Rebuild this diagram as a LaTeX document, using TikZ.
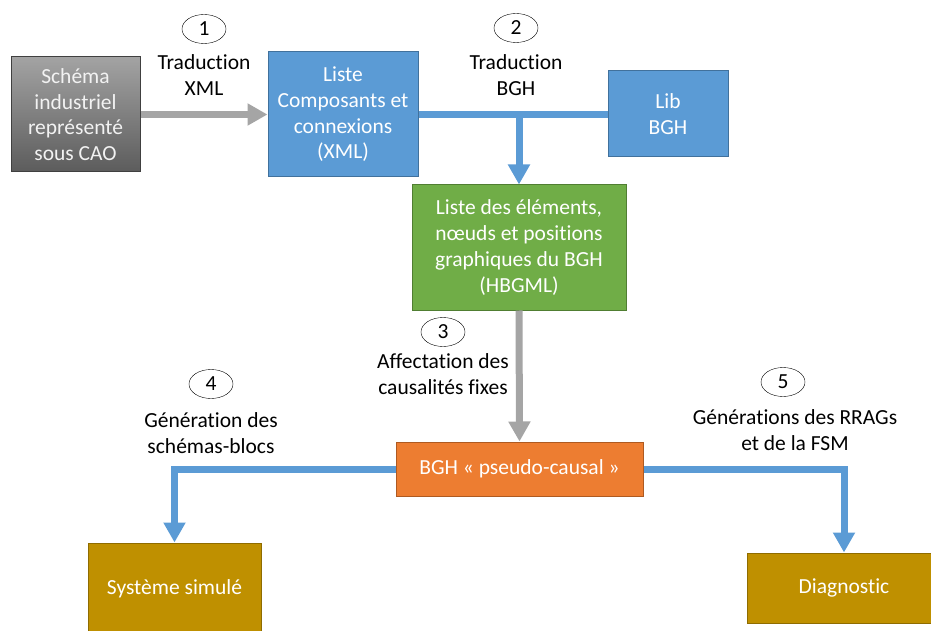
\documentclass[tikz,border=0pt]{standalone}
\usepackage{fontspec}
\setmainfont{Carlito}[Ligatures=NoCommon]
\usepackage{tikz}
\usetikzlibrary{arrows.meta, shapes.geometric, positioning}
\definecolor{C_BLUE}  {HTML}{5B9BD5}
\definecolor{C_BLUED} {HTML}{41719C}
\definecolor{C_GREEN} {HTML}{70AD47}
\definecolor{C_GREEND}{HTML}{507E32}
\definecolor{C_ORNG}  {HTML}{ED7D31}
\definecolor{C_ORNGD} {HTML}{AE5A21}
\definecolor{C_GOLD}  {HTML}{BF9000}
\definecolor{C_GOLDD} {HTML}{8F6C00}
\definecolor{C_ARR}   {HTML}{A5A5A5}
\definecolor{C_GTOP}  {HTML}{A3A3A3}
\definecolor{C_GBOT}  {HTML}{5C5C5C}
\tikzset{
  %% -- generic process box --
  flow/box/.style={
    draw, line width=1pt, align=center, inner sep=0pt,
    font=\fontsize{21.5}{25.7}\selectfont, text=white
  },
  flow/cao/.style={flow/box, draw=black!75, top color=C_GTOP, bottom color=C_GBOT,
    text=white!95!black},
  flow/blue/.style={flow/box, draw=C_BLUED, fill=C_BLUE},
  flow/green/.style={flow/box, draw=C_GREEND, fill=C_GREEN},
  flow/orange/.style={flow/box, draw=C_ORNGD, fill=C_ORNG},
  flow/gold/.style={flow/box, draw=C_GOLDD, fill=C_GOLD},
  %% -- step number and step label --
  flow/num/.style={
    ellipse, draw, thin, minimum width=44pt, minimum height=29pt,
    inner sep=0pt, font=\fontsize{21.5}{24}\selectfont
  },
  flow/lbl/.style={align=center, font=\fontsize{21.5}{25.7}\selectfont},
  %% -- connectors --
  flow/garr/.style={draw=C_ARR, line width=7pt, -{Triangle[width=21pt,length=20pt]}},
  flow/barr/.style={draw=C_BLUE, line width=7pt, -{Triangle[width=21pt,length=20pt]}},
  flow/bline/.style={draw=C_BLUE, line width=7pt},
}

\begin{document}
\begin{tikzpicture}[x=1pt, y=-1pt]
\clip (0,0) rectangle (931,631);

%% Nodes
\node[flow/cao, minimum width=129pt, minimum height=115pt] (cao) at (75.5, 114.5)
  {Schéma\\industriel\\représenté\\sous CAO};
\node[flow/blue, minimum width=150pt, minimum height=125pt] (xml) at (343, 114.5)
  {Liste\\Composants et\\connexions\\(XML)};
\node[flow/blue, minimum width=120pt, minimum height=86pt] (lib) at (668, 114)
  {Lib\\BGH};
\node[flow/green, minimum width=214pt, minimum height=125pt] (hbgml) at (519, 247.5)
  {Liste des éléments,\\nœuds et positions\\graphiques du BGH\\(HBGML)};
\node[flow/orange, minimum width=247pt, minimum height=54pt] (bgh) at (519.5, 469)
  {BGH « pseudo-causal »};
\node[flow/gold, minimum width=173pt, minimum height=92pt] (sim) at (174.5, 589)
  {Système simulé};
\node[flow/gold, minimum width=194pt, minimum height=70pt] (diag) at (844, 588)
  {Diagnostic};

%% Step numbers and labels
\node[flow/num] (n1) at (204, 29) {1};
\node[flow/lbl] (t1) at (204, 75) {Traduction\\XML};
\node[flow/num] (n2) at (516, 28) {2};
\node[flow/lbl] (t2) at (516, 75) {Traduction\\BGH};
\node[flow/num] (n3) at (443, 332) {3};
\node[flow/lbl] (t3) at (443, 374) {Affectation des\\causalités fixes};
\node[flow/num] (n4) at (211, 384) {4};
\node[flow/lbl] (t4) at (211, 433) {Génération des\\schémas-blocs};
\node[flow/num] (n5) at (783, 382) {5};
\node[flow/lbl] (t5) at (795, 430) {Générations des RRAGs\\et de la FSM};

%% Connectors
\draw[flow/garr] (cao.east) -- (xml.west);
\draw[flow/bline] (xml.east) -- (xml.east -| lib.west);
\draw[flow/barr] (xml.east -| hbgml.north) -- (hbgml.north);
\draw[flow/garr] (hbgml.south) -- (bgh.north);
\draw[flow/barr] (bgh.west) -| (sim.north);
\draw[flow/barr] (bgh.east) -| (diag.north);
\end{tikzpicture}
\end{document}
